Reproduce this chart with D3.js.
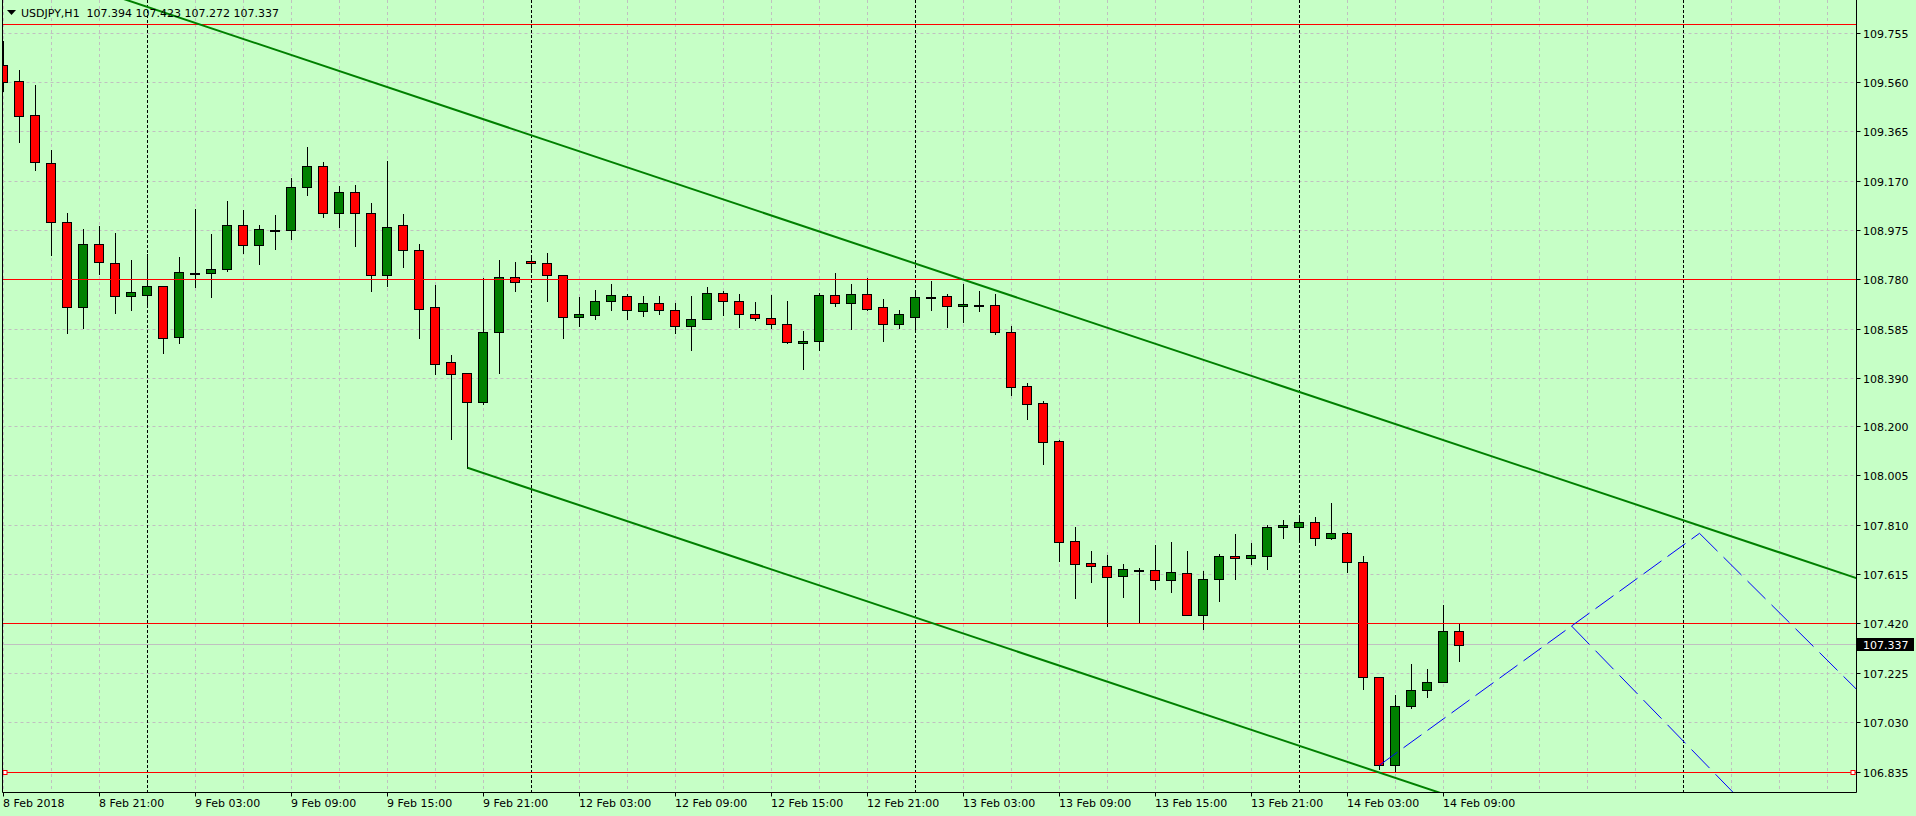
<!DOCTYPE html>
<html>
<head>
<meta charset="utf-8">
<script src="https://d3js.org/d3.v7.min.js"></script>
<style>
	html, body { margin: 0; padding: 0; background: #c6ffc6; overflow: hidden; }
	svg { display: block; font-family: "DejaVu Sans", sans-serif; font-size: 11px; }
	.grid { stroke: #c0c0c0; stroke-width: 1; stroke-dasharray: 3,3; fill: none; }
	.day_sep { stroke: #000; stroke-width: 1; stroke-dasharray: 3,2; fill: none; }
	.wick { stroke: #000; stroke-width: 1; }
	.body { stroke: #000; stroke-width: 1; }
	.level { stroke: #ff0000; stroke-width: 1; }
	.bid { stroke: #c0c0c0; stroke-width: 1; }
	.channel { stroke: #008000; stroke-width: 2; fill: none; }
	.proj { stroke: #0000ff; stroke-width: 1; fill: none; }
	.border { stroke: #000; stroke-width: 1; }
	.labels { fill: #000; }
</style>
</head>
<body>
<div id="chart_container"></div>
<script>

// main variables
// ----------------------------------------

var width = 1916,
	height = 816;

var plot_box = {left: 2.5, right: 1856.5, top: 0, bottom: 792.5};

var symbol_name = "USDJPY,H1";
var last_quote = ["107.394", "107.423", "107.272", "107.337"];

// hourly bars, 8 Feb 15:00 -> 14 Feb 10:00 (no weekend)
var opens = [
	109.629, 109.564, 109.430, 109.240, 109.007, 108.671, 108.920, 108.845, 108.715, 108.719,
	108.754, 108.553, 108.808, 108.806, 108.824, 108.995, 108.916, 108.977, 108.975, 109.145,
	109.228, 109.043, 109.128, 109.043, 108.798, 108.995, 108.896, 108.671, 108.454, 108.410,
	108.296, 108.572, 108.790, 108.853, 108.845, 108.798, 108.634, 108.642, 108.695, 108.715,
	108.655, 108.687, 108.659, 108.596, 108.624, 108.727, 108.695, 108.644, 108.628, 108.604,
	108.529, 108.537, 108.719, 108.687, 108.723, 108.671, 108.606, 108.634, 108.712, 108.715,
	108.675, 108.680, 108.679, 108.572, 108.359, 108.292, 108.142, 107.747, 107.660, 107.648,
	107.608, 107.633, 107.632, 107.592, 107.620, 107.454, 107.596, 107.687, 107.679, 107.687,
	107.802, 107.802, 107.822, 107.758, 107.778, 107.664, 107.209, 106.862, 107.095, 107.158,
	107.189, 107.394
];
var highs = [
	109.725, 109.609, 109.550, 109.293, 109.045, 108.981, 108.994, 108.965, 108.858, 108.882,
	108.755, 108.869, 109.058, 108.961, 109.091, 109.056, 108.995, 109.036, 109.182, 109.305,
	109.245, 109.151, 109.154, 109.082, 109.248, 109.040, 108.921, 108.759, 108.483, 108.410,
	108.786, 108.857, 108.850, 108.871, 108.886, 108.799, 108.711, 108.740, 108.763, 108.724,
	108.715, 108.715, 108.687, 108.716, 108.750, 108.736, 108.724, 108.692, 108.720, 108.696,
	108.578, 108.727, 108.807, 108.763, 108.786, 108.704, 108.661, 108.740, 108.775, 108.724,
	108.763, 108.736, 108.724, 108.597, 108.371, 108.300, 108.146, 107.803, 107.708, 107.692,
	107.657, 107.640, 107.732, 107.743, 107.708, 107.629, 107.695, 107.775, 107.740, 107.810,
	107.831, 107.839, 107.843, 107.898, 107.785, 107.689, 107.209, 107.138, 107.263, 107.242,
	107.496, 107.423
];
var lows = [
	109.527, 109.326, 109.214, 108.878, 108.571, 108.591, 108.803, 108.650, 108.661, 108.680,
	108.489, 108.529, 108.753, 108.713, 108.816, 108.887, 108.843, 108.902, 108.941, 109.116,
	109.029, 108.990, 108.915, 108.737, 108.755, 108.832, 108.551, 108.408, 108.152, 108.037,
	108.288, 108.413, 108.737, 108.819, 108.696, 108.551, 108.597, 108.626, 108.661, 108.625,
	108.638, 108.646, 108.571, 108.504, 108.624, 108.641, 108.595, 108.622, 108.589, 108.529,
	108.429, 108.504, 108.678, 108.585, 108.661, 108.539, 108.591, 108.587, 108.661, 108.595,
	108.614, 108.658, 108.567, 108.326, 108.231, 108.053, 107.669, 107.523, 107.586, 107.413,
	107.528, 107.425, 107.559, 107.547, 107.454, 107.399, 107.512, 107.599, 107.656, 107.638,
	107.761, 107.752, 107.732, 107.754, 107.627, 107.162, 106.848, 106.835, 107.089, 107.133,
	107.189, 107.272
];
var closes = [
	109.560, 109.428, 109.244, 109.007, 108.671, 108.920, 108.849, 108.715, 108.730, 108.754,
	108.549, 108.810, 108.808, 108.821, 108.995, 108.916, 108.979, 108.977, 109.145, 109.228,
	109.043, 109.128, 109.043, 108.798, 108.990, 108.896, 108.666, 108.449, 108.409, 108.296,
	108.572, 108.790, 108.770, 108.845, 108.798, 108.634, 108.644, 108.695, 108.719, 108.659,
	108.687, 108.659, 108.596, 108.624, 108.727, 108.695, 108.644, 108.628, 108.604, 108.533,
	108.537, 108.719, 108.687, 108.723, 108.666, 108.606, 108.644, 108.711, 108.712, 108.675,
	108.683, 108.680, 108.572, 108.357, 108.288, 108.140, 107.745, 107.656, 107.648, 107.604,
	107.636, 107.633, 107.592, 107.624, 107.454, 107.596, 107.687, 107.679, 107.691, 107.802,
	107.810, 107.822, 107.758, 107.778, 107.664, 107.209, 106.862, 107.095, 107.158, 107.189,
	107.394, 107.337
];

var price_ticks = ["109.755", "109.560", "109.365", "109.170", "108.975", "108.780", "108.585", "108.390",
	"108.200", "108.005", "107.810", "107.615", "107.420", "107.225", "107.030", "106.835"];

var time_ticks = [0, 6, 12, 18, 24, 30, 36, 42, 48, 54, 60, 66, 72, 78, 84, 90];
var time_labels = ["8 Feb 2018", "8 Feb 21:00", "9 Feb 03:00", "9 Feb 09:00", "9 Feb 15:00", "9 Feb 21:00",
	"12 Feb 03:00", "12 Feb 09:00", "12 Feb 15:00", "12 Feb 21:00", "13 Feb 03:00", "13 Feb 09:00",
	"13 Feb 15:00", "13 Feb 21:00", "14 Feb 03:00", "14 Feb 09:00"];
var day_breaks = [9, 33, 57, 81, 105];

var levels = [109.787, 108.782, 107.420, 106.835];
var bid_price = 107.337;

// objects: [bar index, price]
var channel_top = [[8, 109.879], [108, 107.766]];
var channel_bottom = [[29, 108.037], [129, 105.924]];
var proj_up = [[86, 106.862], [106, 107.778]];
var proj_down_a = [[98, 107.412], [108, 106.761]];
var proj_down_b = [[106, 107.778], [116, 107.150]];

$ready();

function $ready(){
	dataviz();
}

// dataviz
// ----------------------------------------

function dataviz(){

	var svg = d3.select("#chart_container")
		.append("svg")
		.attr("width", width)
		.attr("height", height)

	svg.append("rect")
		.attr("width", width)
		.attr("height", height)
		.attr("fill", "#c6ffc6")

	var x = d3.scaleLinear().domain([0, 1]).range([3.5, 19.5]);
	var y = d3.scaleLinear().domain([106.835, 109.755]).range([772, 33]);

	function snap(v){ return Math.floor(v) + 0.5; }

	svg.append("defs")
		.append("clipPath")
		.attr("id", "plot_clip")
		.append("rect")
		.attr("x", 3)
		.attr("y", 0)
		.attr("width", plot_box.right - 3.5)
		.attr("height", plot_box.bottom - 0.5)

	var plot = svg.append("g")
		.attr("id", "d3_plot")
		.attr("clip-path", "url(#plot_clip)")

	// grid
	var grid_idx = d3.range(0, 117, 3).filter(function(i){
		return day_breaks.indexOf(i) < 0 && x(i) < plot_box.right;
	});

	plot.append("g")
		.selectAll("line")
		.data(price_ticks)
		.enter()
		.append("line")
		.attr("class", "grid")
		.attr("x1", plot_box.left)
		.attr("x2", plot_box.right)
		.attr("y1", function(d){ return snap(y(+d)); })
		.attr("y2", function(d){ return snap(y(+d)); })

	plot.append("g")
		.selectAll("line")
		.data(grid_idx)
		.enter()
		.append("line")
		.attr("class", "grid")
		.attr("x1", function(d){ return x(d); })
		.attr("x2", function(d){ return x(d); })
		.attr("y1", plot_box.top)
		.attr("y2", plot_box.bottom)

	plot.append("g")
		.selectAll("line")
		.data(day_breaks)
		.enter()
		.append("line")
		.attr("class", "day_sep")
		.attr("x1", function(d){ return x(d); })
		.attr("x2", function(d){ return x(d); })
		.attr("y1", plot_box.top)
		.attr("y2", plot_box.bottom)

	// bid line
	plot.append("line")
		.attr("class", "bid")
		.attr("x1", plot_box.left)
		.attr("x2", plot_box.right)
		.attr("y1", snap(y(bid_price)))
		.attr("y2", snap(y(bid_price)))

	// header
	svg.append("path")
		.attr("d", "M7,10L16,10L11.5,15Z")
		.attr("fill", "#000")

	svg.append("text")
		.attr("class", "labels")
		.attr("x", 21)
		.attr("y", 17)
		.style("white-space", "pre")
		.text(symbol_name + "  " + last_quote.join(" "))

	// candles
	var bars = d3.range(opens.length);

	var candles = plot.append("g")
		.attr("class", "candles")
		.selectAll("g")
		.data(bars)
		.enter()
		.append("g")

	candles.append("line")
		.attr("class", "wick")
		.attr("x1", function(i){ return x(i); })
		.attr("x2", function(i){ return x(i); })
		.attr("y1", function(i){ return Math.round(y(highs[i])); })
		.attr("y2", function(i){ return Math.round(y(lows[i])) + 1; })

	candles.append("rect")
		.attr("class", "body")
		.attr("x", function(i){ return x(i) - 5; })
		.attr("width", 9)
		.attr("y", function(i){ return Math.round(y(Math.max(opens[i], closes[i]))) + 0.5; })
		.attr("height", function(i){
			var t = Math.round(y(Math.max(opens[i], closes[i]))),
				b = Math.round(y(Math.min(opens[i], closes[i])));
			return Math.max(b - t, 1);
		})
		.attr("fill", function(i){
			return closes[i] >= opens[i] ? "#008000" : "#ff0000";
		})

	// horizontal levels
	plot.append("g")
		.selectAll("line")
		.data(levels)
		.enter()
		.append("line")
		.attr("class", "level")
		.attr("x1", plot_box.left)
		.attr("x2", plot_box.right)
		.attr("y1", function(d){ return snap(y(d)); })
		.attr("y2", function(d){ return snap(y(d)); })

	// trend lines
	function extend(pts, from, to){
		var k = (pts[1][1] - pts[0][1]) / (pts[1][0] - pts[0][0]);
		return [[from, pts[0][1] + (from - pts[0][0]) * k], [to, pts[0][1] + (to - pts[0][0]) * k]];
	}

	var line = d3.line()
		.x(function(d){ return x(d[0]); })
		.y(function(d){ return y(d[1]); })

	plot.append("path")
		.attr("class", "channel")
		.attr("d", line(extend(channel_top, -2, 125)))

	plot.append("path")
		.attr("class", "channel")
		.attr("d", line(extend(channel_bottom, 29, 125)))

	function dash(pts){
		var dx = x(pts[1][0]) - x(pts[0][0]),
			dy = y(pts[1][1]) - y(pts[0][1]),
			f = Math.sqrt(dx * dx + dy * dy) / Math.abs(dx);
		return (18 * f) + "," + (6 * f);
	}

	plot.append("path")
		.attr("class", "proj")
		.attr("stroke-dasharray", dash(proj_up))
		.attr("d", line(proj_up))

	plot.append("path")
		.attr("class", "proj")
		.attr("stroke-dasharray", dash(proj_down_a))
		.attr("d", line(extend(proj_down_a, 98, 125)))

	plot.append("path")
		.attr("class", "proj")
		.attr("stroke-dasharray", dash(proj_down_b))
		.attr("d", line(extend(proj_down_b, 106, 125)))

	// selected level markers
	var sel = snap(y(levels[3]));
	svg.selectAll(".marker")
		.data([4.5, 1852.5])
		.enter()
		.append("rect")
		.attr("class", "marker")
		.attr("x", function(d){ return d - 1.5; })
		.attr("y", sel - 2)
		.attr("width", 4)
		.attr("height", 4)
		.attr("fill", "#fff")
		.attr("stroke", "#ff0000")

	// borders
	svg.append("line").attr("class", "border")
		.attr("x1", plot_box.left).attr("x2", plot_box.left)
		.attr("y1", 0).attr("y2", plot_box.bottom)
	svg.append("line").attr("class", "border")
		.attr("x1", plot_box.right).attr("x2", plot_box.right)
		.attr("y1", 0).attr("y2", plot_box.bottom)
	svg.append("line").attr("class", "border")
		.attr("x1", plot_box.left).attr("x2", plot_box.right)
		.attr("y1", plot_box.bottom).attr("y2", plot_box.bottom)

	// price axis
	var price_axis = svg.append("g").attr("class", "price_axis");

	price_axis.selectAll("line")
		.data(price_ticks)
		.enter()
		.append("line")
		.attr("class", "border")
		.attr("x1", plot_box.right)
		.attr("x2", plot_box.right + 4)
		.attr("y1", function(d){ return snap(y(+d)); })
		.attr("y2", function(d){ return snap(y(+d)); })

	price_axis.selectAll("text")
		.data(price_ticks)
		.enter()
		.append("text")
		.attr("class", "labels")
		.attr("x", 1863)
		.attr("y", function(d){ return Math.floor(y(+d)) + 5; })
		.text(function(d){ return d; })

	// current price box
	price_axis.append("rect")
		.attr("x", 1857)
		.attr("y", Math.floor(y(bid_price)) - 6)
		.attr("width", 57)
		.attr("height", 13)
		.attr("fill", "#000")

	price_axis.append("text")
		.attr("x", 1863)
		.attr("y", Math.floor(y(bid_price)) + 5)
		.attr("fill", "#fff")
		.text(bid_price.toFixed(3))

	// time axis
	var time_axis = svg.append("g").attr("class", "time_axis");

	time_axis.selectAll("line")
		.data(time_ticks)
		.enter()
		.append("line")
		.attr("class", "border")
		.attr("x1", function(d){ return x(d); })
		.attr("x2", function(d){ return x(d); })
		.attr("y1", plot_box.bottom)
		.attr("y2", plot_box.bottom + 4)

	time_axis.selectAll("text")
		.data(time_ticks)
		.enter()
		.append("text")
		.attr("class", "labels")
		.attr("x", function(d){ return x(d) - 0.5; })
		.attr("y", 807)
		.text(function(d, i){ return time_labels[i]; })
}

</script>
</body>
</html>
